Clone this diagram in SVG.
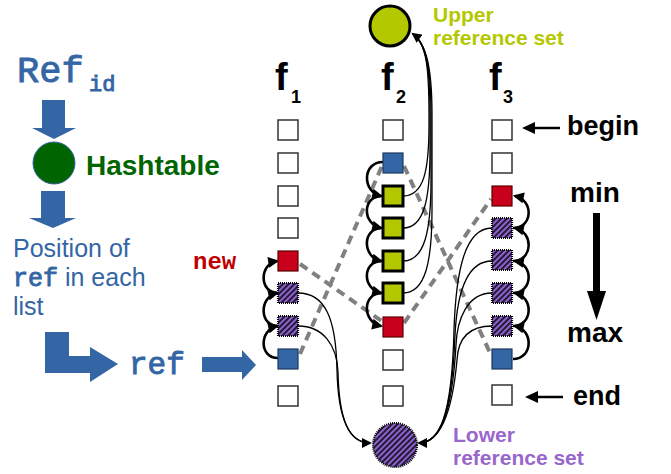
<svg xmlns="http://www.w3.org/2000/svg" width="671" height="474" viewBox="0 0 671 474">
  <style>
    .blue { fill: #3465a4; }
    .mono { font-family: "Liberation Mono", "Courier New", monospace; }
    .code { font-family: "Liberation Mono", "Courier New", monospace; stroke: #3465a4; stroke-width: 0.9; }
    .sans { font-family: "Liberation Sans", Arial, sans-serif; }
    .bold { font-weight: bold; }
    .title { font-family: "Liberation Sans", Arial, sans-serif; font-weight: bold; fill: #000; }
    .empty { fill: #fff; stroke: #333; stroke-width: 1.5; }
    .start { fill: #3465a4; stroke: #1c3a60; stroke-width: 1.2; }
    .newref { fill: #c9001b; stroke: #5a0000; stroke-width: 1.2; }
    .upper { fill: #b4c800; stroke: #000; stroke-width: 3; }
    .lower { fill: url(#hatch); stroke: #000; stroke-width: 2.2; stroke-dasharray: 1 1; }
    .link { fill: none; stroke: #808080; stroke-width: 4; stroke-dasharray: 9 6; }
    .step { fill: none; stroke: #000; stroke-width: 2.6; marker-end: url(#head); }
    .gather { fill: none; stroke: #000; stroke-width: 1.3; }
  </style>
  <defs>
    <pattern id="hatch" patternUnits="userSpaceOnUse" width="4" height="4" patternTransform="rotate(45)">
      <rect width="4" height="4" fill="#8d62cf"/>
      <line x1="1" y1="0" x2="1" y2="4" stroke="#000" stroke-width="1.5"/>
    </pattern>
    <marker id="head" viewBox="0 0 10 10" refX="8" refY="5" markerWidth="12" markerHeight="11" markerUnits="userSpaceOnUse" orient="auto">
      <path d="M0,0 L10,5 L0,10 z" fill="#000"/>
    </marker>
    <marker id="headThin" viewBox="0 0 10 10" refX="8" refY="5" markerWidth="11" markerHeight="10" markerUnits="userSpaceOnUse" orient="auto">
      <path d="M0,0 L10,5 L0,10 z" fill="#000"/>
    </marker>
  </defs>

  <!-- lookup pipeline on the left -->
  <g id="refid">
    <text x="17" y="82" class="code blue" font-size="37">Ref</text>
    <text x="89" y="91" class="code blue" font-size="22">id</text>
  </g>
  <g id="arrow-hash">
    <polygon class="blue" points="42,100 65,100 65,128 76,128 54,139 32,128 42,128"/>
  </g>
  <g id="hashtable">
    <circle cx="54" cy="163" r="21" fill="#006400" stroke="#3465a4" stroke-width="1"/>
    <text x="86" y="175" class="sans bold" font-size="28" fill="#006400">Hashtable</text>
  </g>
  <g id="arrow-position">
    <polygon class="blue" points="41,191 65,191 65,218 76,218 53,228 29,218 41,218"/>
  </g>
  <g id="position">
    <text class="sans blue" font-size="25">
      <tspan x="13" y="257">Position of</tspan>
      <tspan x="13" y="286"><tspan class="code" font-size="25">ref</tspan> in each</tspan>
      <tspan x="13" y="315">list</tspan>
    </text>
  </g>
  <g id="arrow-ref">
    <polygon class="blue" points="45,332 69,332 69,356 90,356 90,347 118,364 90,382 90,373 45,373"/>
  </g>
  <g id="ref">
    <text x="129" y="374" class="code blue" font-size="31">ref</text>
  </g>
  <g id="arrow-f1">
    <polygon class="blue" points="202,357 242,357 242,350 256,365 242,380 242,372 202,372"/>
  </g>
  <g id="label-new">
    <text x="193" y="269" class="mono bold" font-size="24" fill="#c00000">new</text>
  </g>

  <!-- column titles -->
  <g id="title-f1"><text x="275" y="90" class="title" font-size="38">f</text><text x="291" y="103" class="title" font-size="18">1</text></g>
  <g id="title-f2"><text x="381" y="90" class="title" font-size="38">f</text><text x="396" y="103" class="title" font-size="18">2</text></g>
  <g id="title-f3"><text x="489" y="90" class="title" font-size="38">f</text><text x="503" y="103" class="title" font-size="18">3</text></g>

  <!-- connectors -->
  <g id="connectors">
    <!-- links of the same reference across lists -->
    <path class="link" d="M300,264 L383,322"/>
    <path class="link" d="M300,354 L382,166"/>
    <path class="link" d="M404,166 L491,355"/>
    <path class="link" d="M404,323 L491,199"/>

    <!-- f1 walk upwards -->
    <path class="step" d="M278,358 C259,358 259,330 277,326"/>
    <path class="step" d="M278,326 C259,326 259,297 277,293"/>
    <path class="step" d="M278,293 C259,293 259,264 277,261"/>

    <!-- f2 walk downwards -->
    <path class="step" d="M383,162 C362,162 362,192 381,196"/>
    <path class="step" d="M382,196 C362,196 362,224 381,228"/>
    <path class="step" d="M382,228 C362,228 362,257 381,261"/>
    <path class="step" d="M382,261 C362,261 362,289 381,293"/>
    <path class="step" d="M382,293 C362,293 362,322 381,326"/>

    <!-- f3 walk upwards -->
    <path class="step" d="M513,359 C533,359 534,330 515,326"/>
    <path class="step" d="M513,326 C533,326 534,297 515,293"/>
    <path class="step" d="M513,293 C533,293 534,264 515,261"/>
    <path class="step" d="M513,261 C533,261 534,232 515,228"/>
    <path class="step" d="M513,228 C533,228 534,200 515,196"/>

    <!-- green entries gathered into the upper set -->
    <path class="gather" d="M403,196 C424,196 429,170 429,125 L429,115 C429,70 427,44 413,34" marker-end="url(#headThin)"/>
    <path class="gather" d="M403,228 C424,228 430,200 430,150 L430,115 C430,70 427,44 413,34"/>
    <path class="gather" d="M403,261 C425,261 431,230 431,180 L431,115 C431,70 427,44 413,34"/>
    <path class="gather" d="M403,293 C426,293 432,260 432,210 L432,115 C432,70 427,44 413,34"/>

    <!-- hatched entries gathered into the lower set -->
    <path class="gather" d="M298,293 C325,293 336,318 337,370 C338,420 349,443 370,443" marker-end="url(#headThin)"/>
    <path class="gather" d="M298,326 C323,326 337,345 338,372 C339,420 349,443 370,443"/>
    <path class="gather" d="M492,228 C465,228 456,270 454,330 C452,415 440,443 419,443" marker-end="url(#headThin)"/>
    <path class="gather" d="M492,261 C466,261 457,295 455,335 C452,415 440,443 419,443"/>
    <path class="gather" d="M492,293 C467,293 457,320 456,345 C452,415 440,443 419,443"/>
    <path class="gather" d="M492,326 C468,326 458,340 457,360 C452,415 440,443 419,443"/>
  </g>

  <!-- list f1 -->
  <g id="f1">
    <rect class="empty" x="278" y="120" width="20" height="20"/>
    <rect class="empty" x="278" y="153" width="20" height="20"/>
    <rect class="empty" x="278" y="186" width="20" height="20"/>
    <rect class="empty" x="278" y="218" width="20" height="20"/>
    <rect class="newref" x="278" y="251" width="20" height="20"/>
    <rect class="lower" x="278" y="283" width="20" height="20"/>
    <rect class="lower" x="278" y="316" width="20" height="20"/>
    <rect class="start" x="278" y="349" width="20" height="20"/>
    <rect class="empty" x="278" y="386" width="20" height="20"/>
  </g>

  <!-- list f2 -->
  <g id="f2">
    <rect class="empty" x="383" y="120" width="20" height="20"/>
    <rect class="start" x="383" y="153" width="20" height="20"/>
    <rect class="upper" x="383" y="186" width="20" height="20"/>
    <rect class="upper" x="383" y="218" width="20" height="20"/>
    <rect class="upper" x="383" y="251" width="20" height="20"/>
    <rect class="upper" x="383" y="283" width="20" height="20"/>
    <rect class="newref" x="383" y="317" width="20" height="20"/>
    <rect class="empty" x="383" y="350" width="20" height="20"/>
    <rect class="empty" x="383" y="386" width="20" height="20"/>
  </g>

  <!-- list f3 -->
  <g id="f3">
    <rect class="empty" x="492" y="120" width="20" height="20"/>
    <rect class="empty" x="492" y="153" width="20" height="20"/>
    <rect class="newref" x="492" y="186" width="20" height="20"/>
    <rect class="lower" x="492" y="218" width="20" height="20"/>
    <rect class="lower" x="492" y="250" width="20" height="20"/>
    <rect class="lower" x="492" y="283" width="20" height="20"/>
    <rect class="lower" x="492" y="316" width="20" height="20"/>
    <rect class="start" x="492" y="349" width="20" height="20"/>
    <rect class="empty" x="492" y="385" width="20" height="20"/>
  </g>

  <!-- reference sets -->
  <g id="upper-set">
    <circle class="upper" cx="390" cy="26" r="20"/>
    <text class="sans bold" font-size="21" fill="#b4c800"><tspan x="433" y="22">Upper</tspan><tspan x="433" y="45">reference set</tspan></text>
  </g>
  <g id="lower-set">
    <circle class="lower" cx="395" cy="445" r="22"/>
    <text class="sans bold" font-size="21" fill="#9966cc"><tspan x="453" y="442">Lower</tspan><tspan x="453" y="465">reference set</tspan></text>
  </g>

  <!-- order legend -->
  <g id="begin">
    <line x1="560" y1="128" x2="532" y2="128" stroke="#000" stroke-width="2.5"/>
    <polygon points="522,128 535,122 535,134" fill="#000"/>
    <text x="567" y="135" class="sans bold" font-size="27">begin</text>
  </g>
  <g id="order">
    <text x="570" y="202" class="sans bold" font-size="28">min</text>
    <rect x="593" y="213" width="7" height="80" fill="#000"/>
    <polygon points="587,291 606,291 596.5,320" fill="#000"/>
    <text x="567" y="342" class="sans bold" font-size="28">max</text>
  </g>
  <g id="end">
    <line x1="563" y1="397" x2="535" y2="397" stroke="#000" stroke-width="2.5"/>
    <polygon points="525,397 538,391 538,403" fill="#000"/>
    <text x="573" y="405" class="sans bold" font-size="27">end</text>
  </g>
</svg>
